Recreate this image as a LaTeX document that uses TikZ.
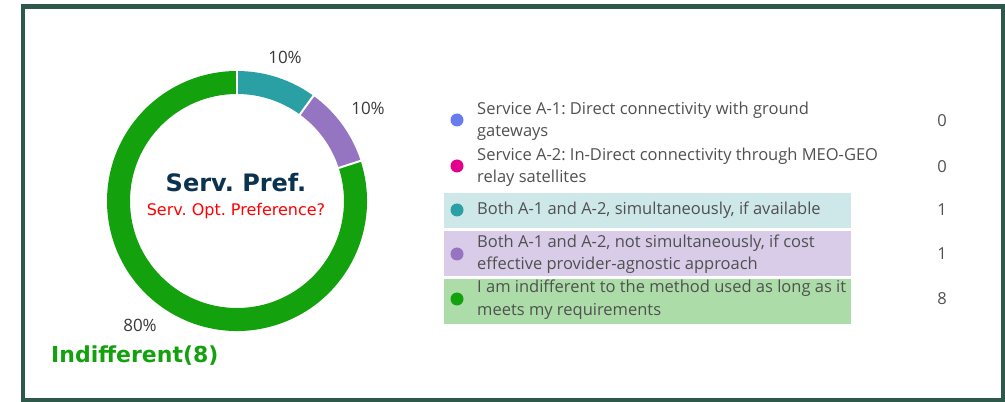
\documentclass[tikz,border=0pt]{standalone}
\usepackage{fontspec}
\setmainfont{Open Sans}
\newfontfamily\verdana{DejaVu Sans}
\frenchspacing

\definecolor{frame}{RGB}{46,89,74}
\definecolor{srvblue}{RGB}{104,124,240}
\definecolor{srvmag}{RGB}{227,0,140}
\definecolor{srvteal}{RGB}{42,159,164}
\definecolor{srvpurple}{RGB}{149,117,193}
\definecolor{srvgreen}{RGB}{19,161,14}
\definecolor{lteal}{RGB}{206,232,233}
\definecolor{lpurple}{RGB}{216,204,232}
\definecolor{lgreen}{RGB}{172,221,169}
\definecolor{navy}{RGB}{11,51,80}
\definecolor{txt}{RGB}{80,80,80}

\begin{document}
\begin{tikzpicture}[x=1pt,y=1pt]

      \useasboundingbox (0,0) rectangle (1005,402);
      \draw[frame, line width=4.5] (23,1.5) rectangle (1003,395.5);

      % donut
      \begin{scope}[shift={(237,201)}]
        \fill[srvteal]   (90:130) arc (90:54:130) -- (54:107) arc (54:90:107) -- cycle;
        \fill[srvpurple] (54:130) arc (54:18:130) -- (18:107) arc (18:54:107) -- cycle;
        \fill[srvgreen]  (18:130) arc (18:-270:130) -- (90:107) arc (90:378:107) -- cycle;
        \foreach \a in {90,54,18}
          \draw[white, line width=2] (\a:105) -- (\a:132);
      \end{scope}

      \begin{scope}[every node/.style={inner sep=0pt}]
        \node (p1) at (285,345) {\fontsize{17}{20}\selectfont\color{txt!70!black}10\%};
        \node (p2) at (368,294) {\fontsize{17}{20}\selectfont\color{txt!70!black}10\%};
        \node (p3) at (140,77)  {\fontsize{17}{20}\selectfont\color{txt!70!black}80\%};
        \node (t1) at (236,219) {\verdana\bfseries\fontsize{24}{28}\selectfont\color{navy}Serv. Pref.};
        \node (t2) at (236,191) {\verdana\fontsize{16}{19}\selectfont\color{red}Serv. Opt. Preference?};
        \node[anchor=west] (ind) at (51,46) {\verdana\bfseries\fontsize{22}{26}\selectfont\color{srvgreen}Indifferent(8)};
      \end{scope}

      % legend rows
      \fill[lteal]   (444,174) rectangle (851,209);
      \fill[lpurple] (444,126) rectangle (851,171);
      \fill[lgreen]  (444,78)  rectangle (851,123);

      \begin{scope}[every node/.style={circle, minimum size=13pt, inner sep=0pt}]
        \node[fill=srvblue]   (d1) at (457,282) {};
        \node[fill=srvmag]    (d2) at (457,236) {};
        \node[fill=srvteal]   (d3) at (457,192) {};
        \node[fill=srvpurple] (d4) at (457,148) {};
        \node[fill=srvgreen]  (d5) at (457,103) {};
      \end{scope}

      \begin{scope}[every node/.style={anchor=west, align=left, inner sep=0pt,
          font=\fontsize{16.5}{22.5}\selectfont, text=txt}]
        \node (l1) at (477,281)   {Service A-1: Direct connectivity with ground\\gateways};
        \node (l2) at (477,235)   {Service A-2: In-Direct connectivity through MEO-GEO\\relay satellites};
        \node (l3) at (477,192)   {Both A-1 and A-2, simultaneously, if available};
        \node (l4) at (477,148)   {Both A-1 and A-2, not simultaneously, if cost\\effective provider-agnostic approach};
        \node (l5) at (477,102.5) {I am indifferent to the method used as long as it\\meets my requirements};
      \end{scope}

      \begin{scope}[every node/.style={inner sep=0pt, font=\fontsize{16.5}{20}\selectfont, text=txt}]
        \node (c1) at (942,281) {0};
        \node (c2) at (942,235) {0};
        \node (c3) at (942,192) {1};
        \node (c4) at (942,148) {1};
        \node (c5) at (942,103) {8};
      \end{scope}

    \end{tikzpicture}
\end{document}
